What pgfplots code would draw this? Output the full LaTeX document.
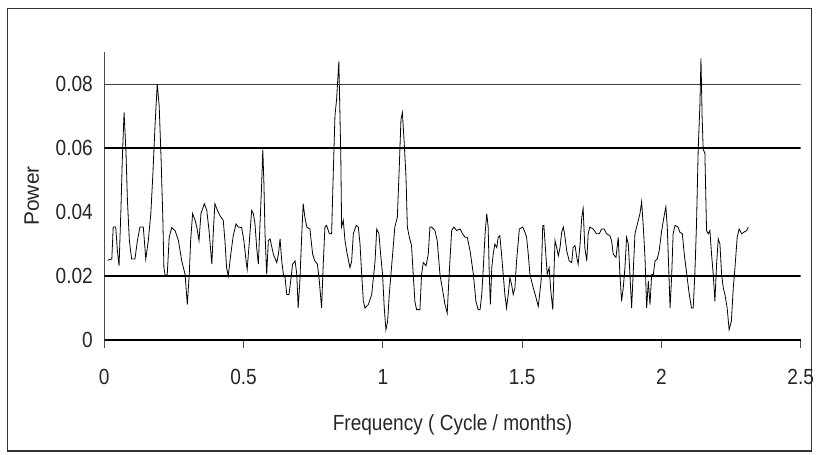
\documentclass[border=0pt]{standalone}
\usepackage{fontspec}
\setmainfont{Liberation Sans}[FakeStretch=0.87]
\newfontfamily\plainfont{Liberation Sans}
\usepackage{pgfplots}
\pgfplotsset{compat=1.18}

\begin{document}
\begin{tikzpicture}
\useasboundingbox (-104.3bp,-115bp) rectangle (712.7bp,340bp);
\draw[black!80, line width=1.2bp] (-97bp,-111bp) rectangle (707.5bp,331.7bp);
\begin{axis}[
  at={(0,0)}, anchor=south west,
  scale only axis, width=696.4bp, height=288bp,
  xmin=0, xmax=2.5, ymin=0, ymax=0.09,
  axis lines*=left,
  x axis line style={black, line width=1.6bp},
  y axis line style={black!70, line width=0.9bp},
  scaled ticks=false,
  xtick={0,0.5,1,1.5,2,2.5},
  xticklabels={0,0.5,1,1.5,2,2.5},
  ytick={0,0.02,0.04,0.06,0.08},
  yticklabels={0,0.02,0.04,0.06,0.08},
  tick align=outside, major tick length=8bp,
  ytick style={draw=none},
  xtick style={black!70, line width=0.8bp},
  tick label style={font=\fontsize{22}{24}\selectfont, text=black!85},
  xticklabel style={yshift=-18bp},
  xlabel={Frequency ( Cycle / months)},
  ylabel={\plainfont Power},
  label style={font=\fontsize{22}{24}\selectfont, text=black!85},
  xlabel style={at={(axis description cs:0.5,-0.295)}, anchor=center},
  ylabel style={at={(axis description cs:-0.104,0.5)}, anchor=center, font=\fontsize{21}{24}\selectfont},
]
% horizontal reference lines (the 0.04 one is absent in the original)
\draw[black!75, line width=0.9bp] ([xshift=-7bp]axis cs:0,0.08) -- (axis cs:2.5,0.08);
\draw[black, line width=1.6bp] ([xshift=-7bp]axis cs:0,0.06) -- (axis cs:2.5,0.06);
\draw[black, line width=1.6bp] ([xshift=-7bp]axis cs:0,0.02) -- (axis cs:2.5,0.02);
\draw[black, line width=1.6bp] ([xshift=-7bp]axis cs:0,0) -- (axis cs:0,0);

\addplot[black, line width=0.8bp, mark=none] coordinates {
(0.011,0.0249) (0.027,0.0253) (0.032,0.0353) (0.041,0.0353) (0.047,0.0279)
(0.053,0.0232) (0.060,0.0416) (0.065,0.0574) (0.071,0.0711) (0.078,0.0584)
(0.083,0.0437) (0.090,0.0311) (0.098,0.0253) (0.110,0.0253) (0.119,0.0311)
(0.128,0.0353) (0.140,0.0353) (0.149,0.0253) (0.158,0.0311) (0.167,0.0395)
(0.174,0.0511) (0.182,0.0668) (0.190,0.0800) (0.197,0.0732) (0.204,0.0563)
(0.210,0.0384) (0.214,0.0226) (0.219,0.0200) (0.226,0.0205) (0.233,0.0321)
(0.242,0.0351) (0.254,0.0342) (0.266,0.0311) (0.278,0.0247) (0.290,0.0205)
(0.298,0.0111) (0.305,0.0205) (0.310,0.0311) (0.317,0.0395) (0.326,0.0374)
(0.332,0.0353) (0.340,0.0311) (0.347,0.0395) (0.359,0.0426) (0.368,0.0405)
(0.376,0.0342) (0.386,0.0237) (0.391,0.0332) (0.397,0.0426) (0.406,0.0405)
(0.415,0.0389) (0.427,0.0374) (0.433,0.0311) (0.439,0.0226) (0.445,0.0200)
(0.454,0.0268) (0.463,0.0326) (0.473,0.0363) (0.481,0.0353) (0.493,0.0351)
(0.501,0.0311) (0.509,0.0247) (0.513,0.0221) (0.521,0.0311) (0.529,0.0405)
(0.535,0.0395) (0.541,0.0363) (0.547,0.0289) (0.553,0.0237) (0.559,0.0363)
(0.565,0.0489) (0.569,0.0595) (0.573,0.0489) (0.577,0.0332) (0.583,0.0205)
(0.589,0.0311) (0.595,0.0316) (0.607,0.0268) (0.619,0.0242) (0.625,0.0268)
(0.631,0.0316) (0.637,0.0247) (0.643,0.0205) (0.649,0.0195) (0.655,0.0142)
(0.663,0.0142) (0.669,0.0184) (0.676,0.0237) (0.685,0.0247) (0.691,0.0205)
(0.696,0.0100) (0.702,0.0184) (0.709,0.0332) (0.714,0.0426) (0.720,0.0384)
(0.727,0.0353) (0.738,0.0347) (0.748,0.0268) (0.756,0.0247) (0.765,0.0237)
(0.772,0.0184) (0.780,0.0100) (0.786,0.0237) (0.792,0.0353) (0.798,0.0358)
(0.808,0.0332) (0.816,0.0332) (0.822,0.0521) (0.828,0.0700) (0.834,0.0753)
(0.842,0.0870) (0.849,0.0574) (0.852,0.0353) (0.858,0.0374) (0.864,0.0311)
(0.872,0.0268) (0.882,0.0226) (0.888,0.0247) (0.894,0.0332) (0.904,0.0358)
(0.912,0.0353) (0.918,0.0300) (0.924,0.0205) (0.930,0.0121) (0.936,0.0100)
(0.948,0.0111) (0.960,0.0142) (0.972,0.0247) (0.978,0.0347) (0.986,0.0332)
(0.992,0.0268) (0.999,0.0205) (1.005,0.0100) (1.011,0.0032) (1.017,0.0058)
(1.023,0.0142) (1.029,0.0205) (1.035,0.0268) (1.043,0.0353) (1.052,0.0384)
(1.059,0.0542) (1.065,0.0689) (1.070,0.0711) (1.076,0.0626) (1.083,0.0511)
(1.088,0.0353) (1.095,0.0321) (1.103,0.0295) (1.109,0.0205) (1.115,0.0121)
(1.121,0.0095) (1.133,0.0095) (1.139,0.0205) (1.145,0.0242) (1.155,0.0232)
(1.163,0.0268) (1.169,0.0353) (1.175,0.0353) (1.187,0.0342) (1.195,0.0311)
(1.205,0.0205) (1.215,0.0153) (1.223,0.0111) (1.231,0.0084) (1.238,0.0205)
(1.247,0.0342) (1.255,0.0353) (1.265,0.0342) (1.277,0.0347) (1.286,0.0332)
(1.295,0.0321) (1.303,0.0321) (1.313,0.0279) (1.325,0.0205) (1.334,0.0121)
(1.342,0.0095) (1.349,0.0095) (1.355,0.0142) (1.360,0.0216) (1.367,0.0332)
(1.373,0.0395) (1.378,0.0353) (1.382,0.0205) (1.386,0.0111) (1.391,0.0226)
(1.396,0.0268) (1.402,0.0300) (1.409,0.0289) (1.414,0.0321) (1.420,0.0326)
(1.426,0.0268) (1.432,0.0205) (1.438,0.0142) (1.444,0.0100) (1.450,0.0142)
(1.456,0.0195) (1.462,0.0174) (1.468,0.0142) (1.474,0.0163) (1.480,0.0247)
(1.490,0.0347) (1.502,0.0353) (1.510,0.0337) (1.516,0.0321) (1.522,0.0268)
(1.528,0.0205) (1.534,0.0184) (1.540,0.0163) (1.550,0.0132) (1.558,0.0105)
(1.568,0.0184) (1.574,0.0358) (1.578,0.0358) (1.585,0.0268) (1.590,0.0205)
(1.597,0.0226) (1.603,0.0153) (1.610,0.0095) (1.614,0.0205) (1.618,0.0311)
(1.624,0.0289) (1.630,0.0263) (1.636,0.0289) (1.642,0.0337) (1.648,0.0353)
(1.654,0.0321) (1.660,0.0279) (1.669,0.0247) (1.678,0.0242) (1.683,0.0289)
(1.690,0.0295) (1.696,0.0258) (1.701,0.0237) (1.708,0.0300) (1.714,0.0384)
(1.719,0.0411) (1.725,0.0289) (1.732,0.0247) (1.737,0.0332) (1.743,0.0353)
(1.755,0.0347) (1.767,0.0332) (1.777,0.0332) (1.785,0.0347) (1.794,0.0347)
(1.803,0.0332) (1.815,0.0326) (1.821,0.0311) (1.827,0.0268) (1.837,0.0258)
(1.845,0.0321) (1.851,0.0205) (1.857,0.0121) (1.863,0.0163) (1.869,0.0226)
(1.875,0.0321) (1.881,0.0300) (1.887,0.0205) (1.893,0.0100) (1.899,0.0216)
(1.905,0.0332) (1.911,0.0353) (1.917,0.0374) (1.923,0.0395) (1.929,0.0432)
(1.935,0.0353) (1.941,0.0258) (1.947,0.0100) (1.953,0.0184) (1.959,0.0111)
(1.965,0.0205) (1.971,0.0205) (1.977,0.0247) (1.985,0.0253) (1.992,0.0279)
(2.001,0.0342) (2.009,0.0384) (2.016,0.0416) (2.021,0.0353) (2.027,0.0205)
(2.031,0.0100) (2.037,0.0205) (2.042,0.0332) (2.049,0.0358) (2.060,0.0353)
(2.066,0.0337) (2.075,0.0332) (2.082,0.0268) (2.091,0.0205) (2.100,0.0142)
(2.108,0.0100) (2.114,0.0100) (2.120,0.0205) (2.126,0.0363) (2.132,0.0595)
(2.138,0.0732) (2.142,0.0880) (2.146,0.0700) (2.150,0.0595) (2.156,0.0584)
(2.162,0.0342) (2.168,0.0332) (2.174,0.0342) (2.180,0.0268) (2.186,0.0205)
(2.192,0.0121) (2.198,0.0237) (2.204,0.0316) (2.210,0.0300) (2.216,0.0205)
(2.222,0.0163) (2.228,0.0142) (2.236,0.0100) (2.243,0.0032) (2.251,0.0058)
(2.258,0.0163) (2.264,0.0226) (2.272,0.0321) (2.279,0.0347) (2.288,0.0332)
(2.296,0.0337) (2.306,0.0342) (2.312,0.0353)
};
\end{axis}
\end{tikzpicture}
\end{document}
